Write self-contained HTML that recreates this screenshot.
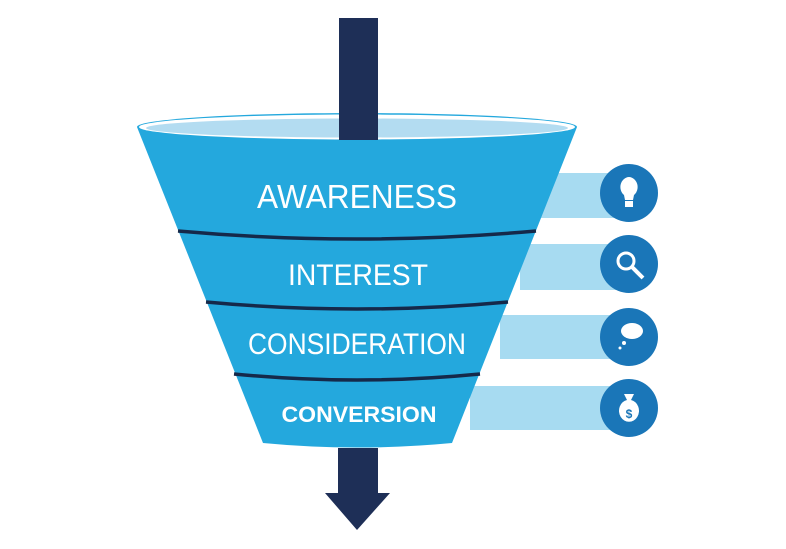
<!DOCTYPE html>
<html><head><style>body{margin:0;background:#fff}svg{display:block}</style></head><body>
<svg width="786" height="549" viewBox="0 0 786 549" xmlns="http://www.w3.org/2000/svg" font-family="Liberation Sans, sans-serif">
<g fill="#a7dbf1">
<rect x="540" y="173" width="80" height="45"/>
<rect x="520" y="244" width="100" height="46"/>
<rect x="500" y="315" width="120" height="44"/>
<rect x="470" y="386" width="150" height="44"/>
</g>
<path d="M137,127 A220,14 0 0 1 577,127 L452,443 Q357,452 263,443 Z" fill="#24a8dd"/>
<ellipse cx="357" cy="127" rx="218" ry="12.5" fill="#fff"/>
<ellipse cx="357" cy="128" rx="211" ry="9.5" fill="#b3dcf1"/>
<rect x="339" y="18" width="39" height="122" fill="#1e2f57"/>
<g fill="none" stroke="#15294a" stroke-width="3.5">
<path d="M178,231 Q357,247 536,231"/>
<path d="M206,302 Q357,316 508,302"/>
<path d="M234,374 Q357,386 480,374"/>
</g>
<path d="M338,448 H378 V493 H390 L357,530 L325,493 H338 Z" fill="#1e2f57"/>
<g fill="#fff" text-anchor="middle">
<text x="357" y="208" font-size="33" textLength="200" lengthAdjust="spacingAndGlyphs">AWARENESS</text>
<text x="358" y="285" font-size="30" textLength="140" lengthAdjust="spacingAndGlyphs">INTEREST</text>
<text x="357" y="354" font-size="30" textLength="218" lengthAdjust="spacingAndGlyphs">CONSIDERATION</text>
<text x="359" y="422" font-size="22" font-weight="bold" textLength="155" lengthAdjust="spacingAndGlyphs">CONVERSION</text>
</g>
<g fill="#1a76b8">
<circle cx="629" cy="193" r="29"/><circle cx="629" cy="264" r="29"/>
<circle cx="629" cy="337" r="29"/><circle cx="629" cy="408" r="29"/>
</g>
<g fill="#fff" stroke="#fff">
<path d="M629,177 a9,10 0 0 1 5,18 l-1,5 h-8 l-1,-5 a9,10 0 0 1 5,-18z" stroke="none"/>
<rect x="625" y="201" width="8" height="6" stroke="none"/>
<circle cx="626" cy="261" r="8" fill="none" stroke-width="3"/>
<line x1="632" y1="267" x2="643" y2="278" stroke-width="4"/>
<ellipse cx="632" cy="331" rx="11" ry="8" stroke="none"/>
<circle cx="624" cy="343" r="2" stroke="none"/><circle cx="620" cy="348" r="1.5" stroke="none"/>
<path d="M624,394 h10 l-3,6 a10,11 0 1 1 -4,0z" stroke="none"/>
</g>
<text x="629" y="418" font-size="12" font-weight="bold" fill="#1a76b8" text-anchor="middle">$</text>
</svg>
</body></html>
